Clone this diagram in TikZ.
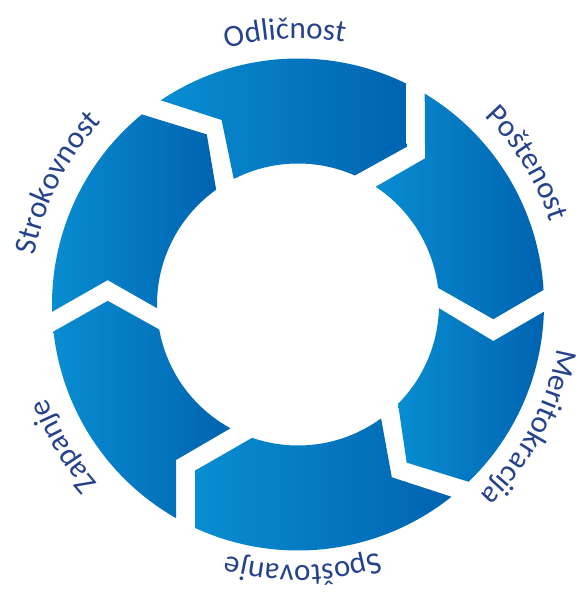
\documentclass[tikz,border=0pt]{standalone}
\usepackage{fontspec}
\setmainfont{Carlito}
\usetikzlibrary{decorations.text}

\begin{document}
\fontsize{31}{37}\selectfont
\begin{tikzpicture}[x=1pt,y=1pt]
  % Local definitions
  \def\rout{246}
  \def\rin{141}

  % Colors
  \definecolor{ringlight}{RGB}{8,141,209}
  \definecolor{ringdark}{RGB}{0,99,176}
  \definecolor{labelcolor}{RGB}{37,66,140}

  % Styles
  \tikzstyle{segment}=[left color=ringlight,right color=ringdark]

  \useasboundingbox (-298,-288.5) rectangle (281,304.5);

  % The graphic: tail corner/notch/inner corner, then head corner/tip/inner corner
  \foreach \tout/\nang/\nrad/\tin/\hout/\hang/\hrad/\hin in {
      123.9/112.5/199.7/117.1/64.0/55.4/191.6/66.2,
      59.0/49.0/193.7/56.6/3.4/-4.3/195.9/6.8,
      -1.7/-10.6/198.7/-1.5/-46.1/-55.5/191.9/-44.8,
      -51.4/-61.5/196.6/-53.9/-114.7/-121.8/195.5/-109.0,
      -119.7/-128.1/197.6/-118.6/-173.7/-181.1/190.3/-169.8,
      181.7/172.7/191.9/181.5/129.4/118.2/193/125.5}
    \path[style=segment] (\tout:\rout)
      arc[start angle=\tout, end angle=\hout, radius=\rout]
      -- (\hang:\hrad) -- (\hin:\rin)
      arc[start angle=\hin, end angle=\tin, radius=\rin]
      -- (\nang:\nrad) -- cycle;

  % Labels round the ring
  \foreach \ang/\rad/\txt in {92.8/266/Odličnost, 31.7/265/Poštenost,
      -27.9/263/Meritokracija, -88.9/261/Spoštovanje,
      -148.9/268/Zapanje, 153.2/268/Strokovnost}
    \path[decorate,decoration={text along path,text/.expanded=\txt,
        text align=center,text color=labelcolor}]
      (\ang+45:\rad) arc[start angle=\ang+45, end angle=\ang-45, radius=\rad];
\end{tikzpicture}
\end{document}
